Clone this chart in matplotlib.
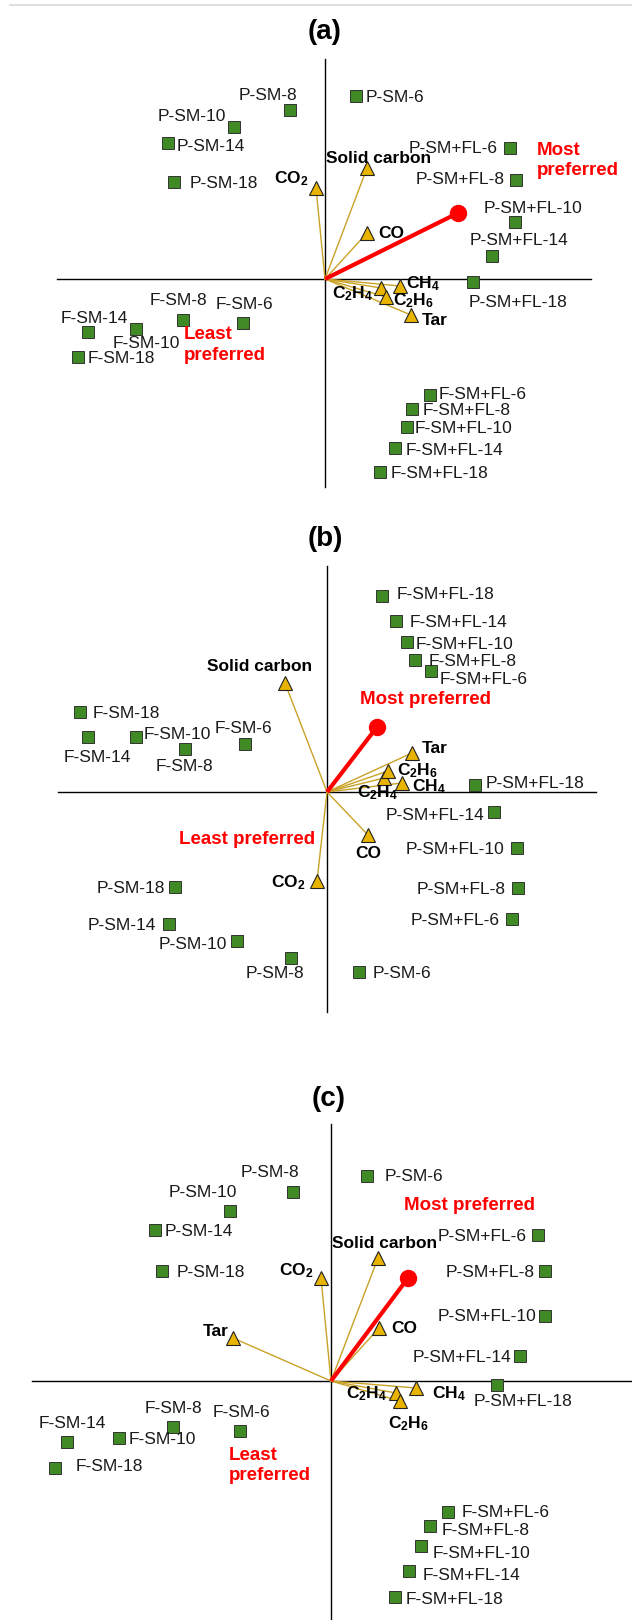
import matplotlib
matplotlib.use("Agg")
import matplotlib.pyplot as plt
from matplotlib.lines import Line2D

plt.rcParams['font.family'] = ['Liberation Sans', 'DejaVu Sans']
plt.rcParams['mathtext.fontset'] = 'custom'
plt.rcParams['mathtext.rm'] = 'Liberation Sans'
plt.rcParams['mathtext.it'] = 'Liberation Sans:italic'
plt.rcParams['mathtext.bf'] = 'Liberation Sans:bold'

# ---------------------------------------------------------------- data
samples = ['P-SM-6', 'P-SM-8', 'P-SM-10', 'P-SM-14', 'P-SM-18',
           'P-SM+FL-6', 'P-SM+FL-8', 'P-SM+FL-10', 'P-SM+FL-14', 'P-SM+FL-18',
           'F-SM-6', 'F-SM-8', 'F-SM-10', 'F-SM-14', 'F-SM-18',
           'F-SM+FL-6', 'F-SM+FL-8', 'F-SM+FL-10', 'F-SM+FL-14', 'F-SM+FL-18']

variables = [r'$\mathbf{CO_2}$', 'Solid carbon', 'CO', r'$\mathbf{CH_4}$',
             r'$\mathbf{C_2H_4}$', r'$\mathbf{C_2H_6}$', 'Tar']

# sample scores, panel (a)
scores_a_x = [0.31, -0.35, -0.91, -1.57, -1.51, 1.85, 1.91, 1.90, 1.67, 1.48,
              -0.82, -1.42, -1.89, -2.37, -2.47, 1.05, 0.87, 0.82, 0.70, 0.55]
scores_a_y = [1.83, 1.69, 1.52, 1.36, 0.97, 1.31, 0.99, 0.57, 0.23, -0.03,
              -0.44, -0.41, -0.50, -0.53, -0.78, -1.16, -1.30, -1.48, -1.69, -1.93]
# sample scores, panel (b)
scores_b_x = [0.32, -0.36, -0.90, -1.58, -1.52, 1.85, 1.91, 1.90, 1.67, 1.48,
              -0.82, -1.42, -1.91, -2.39, -2.47, 1.04, 0.88, 0.80, 0.69, 0.55]
scores_b_y = [-1.80, -1.66, -1.49, -1.32, -0.95, -1.27, -0.96, -0.56, -0.20, 0.07,
              0.48, 0.43, 0.55, 0.55, 0.80, 1.21, 1.32, 1.50, 1.71, 1.96]
# sample scores, panel (c)
scores_c_x = [0.36, -0.38, -1.01, -1.76, -1.69, 2.07, 2.14, 2.14, 1.89, 1.66,
              -0.91, -1.58, -2.12, -2.64, -2.76, 1.17, 0.99, 0.90, 0.78, 0.64]
scores_c_y = [2.05, 1.89, 1.70, 1.51, 1.10, 1.46, 1.10, 0.65, 0.25, -0.04,
              -0.50, -0.46, -0.57, -0.61, -0.87, -1.31, -1.45, -1.65, -1.90, -2.16]

# variable loadings
load_a_x = [-0.09, 0.42, 0.42, 0.75, 0.56, 0.61, 0.86]
load_a_y = [0.91, 1.11, 0.46, -0.07, -0.09, -0.18, -0.36]
load_b_x = [-0.10, -0.42, 0.41, 0.75, 0.57, 0.61, 0.85]
load_b_y = [-0.89, 1.09, -0.43, 0.09, 0.14, 0.21, 0.39]
load_c_x = [-0.10, 0.47, 0.48, 0.85, 0.65, 0.69, -0.98]
load_c_y = [1.03, 1.23, 0.53, -0.07, -0.12, -0.20, 0.43]

# preference direction
pref_a = (1.33, 0.66)
pref_b = (0.50, 0.65)
pref_c = (0.77, 1.03)

panel_titles = ['(a)', '(b)', '(c)']

# ---------------------------------------------------------------- layout
W, H, DPI = 632, 1620, 100
PX = 100.0  # pixels per score unit

# label offsets in pixels (dx, dy up, horizontal alignment)
sample_offsets_a = {
    'P-SM-6': (10, 0, 'left'), 'P-SM-8': (-22, 16, 'center'), 'P-SM-10': (-42, 12, 'center'),
    'P-SM-14': (9, -2, 'left'), 'P-SM-18': (16, 0, 'left'),
    'P-SM+FL-6': (-12, 1, 'right'), 'P-SM+FL-8': (-11, 2, 'right'),
    'P-SM+FL-10': (18, 15, 'center'), 'P-SM+FL-14': (27, 17, 'center'),
    'P-SM+FL-18': (45, -19, 'center'),
    'F-SM-6': (1, 20, 'center'), 'F-SM-8': (-5, 21, 'center'), 'F-SM-10': (10, -13, 'center'),
    'F-SM-14': (6, 15, 'center'), 'F-SM-18': (10, 0, 'left'),
    'F-SM+FL-6': (9, 2, 'left'), 'F-SM+FL-8': (11, 0, 'left'), 'F-SM+FL-10': (8, 0, 'left'),
    'F-SM+FL-14': (11, -1, 'left'), 'F-SM+FL-18': (11, 0, 'left')}
var_offsets_a = [(-25, 11, 'center'), (12, 11, 'center'), (11, 1, 'left'), (6, 4, 'left'),
                 (-8, -4, 'right'), (7, -2, 'left'), (11, -4, 'left')]

sample_offsets_b = {
    'F-SM+FL-18': (15, 3, 'left'), 'F-SM+FL-14': (14, 0, 'left'), 'F-SM+FL-10': (9, -1, 'left'),
    'F-SM+FL-8': (14, 0, 'left'), 'F-SM+FL-6': (9, -7, 'left'),
    'F-SM-18': (13, 0, 'left'), 'F-SM-14': (9, -19, 'center'), 'F-SM-10': (8, 4, 'left'),
    'F-SM-8': (-1, -16, 'center'), 'F-SM-6': (-2, 17, 'center'),
    'P-SM+FL-18': (11, 3, 'left'), 'P-SM+FL-14': (-10, -2, 'right'),
    'P-SM+FL-10': (-13, 0, 'right'), 'P-SM+FL-8': (-12, 0, 'right'), 'P-SM+FL-6': (-12, 0, 'right'),
    'P-SM-18': (-10, 0, 'right'), 'P-SM-14': (-13, 0, 'right'), 'P-SM-10': (-10, -2, 'right'),
    'P-SM-8': (-16, -14, 'center'), 'P-SM-6': (14, 0, 'left')}
var_offsets_b = [(-12, 0, 'right'), (-25, 18, 'center'), (0, -17, 'center'), (10, -2, 'left'),
                 (-6, -13, 'center'), (9, 2, 'left'), (10, 6, 'left')]

sample_offsets_c = {
    'P-SM-6': (18, 1, 'left'), 'P-SM-8': (-23, 21, 'center'), 'P-SM-10': (-27, 20, 'center'),
    'P-SM-14': (10, 0, 'left'), 'P-SM-18': (15, 0, 'left'),
    'P-SM+FL-6': (-11, 0, 'right'), 'P-SM+FL-8': (-10, 0, 'right'),
    'P-SM+FL-10': (-9, 1, 'right'), 'P-SM+FL-14': (-9, 0, 'right'),
    'P-SM+FL-18': (26, -15, 'center'),
    'F-SM-14': (5, 20, 'center'), 'F-SM-10': (10, 0, 'left'), 'F-SM-8': (0, 20, 'center'),
    'F-SM-6': (1, 20, 'center'), 'F-SM-18': (21, 3, 'left'),
    'F-SM+FL-6': (14, 1, 'left'), 'F-SM+FL-8': (12, -3, 'left'), 'F-SM+FL-10': (12, -6, 'left'),
    'F-SM+FL-14': (14, -3, 'left'), 'F-SM+FL-18': (11, -1, 'left')}
var_offsets_c = [(-25, 9, 'center'), (7, 16, 'center'), (12, 1, 'left'), (16, -4, 'left'),
                 (-9, 1, 'right'), (8, -21, 'center'), (-17, 8, 'center')]

panels = [
    dict(band=(0, 500), origin=(325, 279), sx=scores_a_x, sy=scores_a_y,
         lx=load_a_x, ly=load_a_y, pref=pref_a, soff=sample_offsets_a, voff=var_offsets_a,
         hline=(-2.68, 2.66), vline=(-2.08, 2.20), title_xy=(325, 32),
         most=((2.12, 1.185), 'Most\npreferred', 'left'),
         least=((-1.41, -0.66), 'Least\npreferred', 'left')),
    dict(band=(500, 1060), origin=(327, 792), sx=scores_b_x, sy=scores_b_y,
         lx=load_b_x, ly=load_b_y, pref=pref_b, soff=sample_offsets_b, voff=var_offsets_b,
         hline=(-2.69, 2.69), vline=(-2.20, 2.26), title_xy=(325, 539),
         most=((0.98, 0.93), 'Most preferred', 'center'),
         least=((-0.80, -0.48), 'Least preferred', 'center')),
    dict(band=(1060, 1620), origin=(331, 1381), sx=scores_c_x, sy=scores_c_y,
         lx=load_c_x, ly=load_c_y, pref=pref_c, soff=sample_offsets_c, voff=var_offsets_c,
         hline=(-2.99, 3.01), vline=(-2.40, 2.57), title_xy=(329, 1099),
         most=((1.39, 1.76), 'Most preferred', 'center'),
         least=((-1.02, -0.845), 'Least\npreferred', 'left')),
]

GREEN = '#3f8a24'
GOLD = '#e8b400'
GOLD_LINE = '#c9a227'
RED = '#ff0000'
CAP = -1.5  # nudge so capitals sit centred on the anchor

fig = plt.figure(figsize=(W / DPI, H / DPI), dpi=DPI)
fig.add_artist(Line2D([10 / W, 1.0], [1 - 5 / H, 1 - 5 / H], color='#d9d9d9', lw=1.2))

for title, p in zip(panel_titles, panels):
    top, bot = p['band']
    ox, oy = p['origin']
    ax = fig.add_axes([0, 1 - bot / H, 1, (bot - top) / H])
    ax.set_xlim(-ox / PX, (W - ox) / PX)
    ax.set_ylim(-(bot - oy) / PX, (oy - top) / PX)
    ax.axis('off')

    # axes through the origin
    ax.plot(p['hline'], [0, 0], color='black', lw=1.0, zorder=1)
    ax.plot([0, 0], p['vline'], color='black', lw=1.0, zorder=1)

    # variable vectors
    for vx, vy in zip(p['lx'], p['ly']):
        ax.plot([0, vx], [0, vy], color=GOLD_LINE, lw=1.0, zorder=2)
    ax.plot([0, p['pref'][0]], [0, p['pref'][1]], color=RED, lw=3.0,
            solid_capstyle='butt', zorder=3)
    ax.plot([p['pref'][0]], [p['pref'][1]], 'o', color=RED, ms=11.5, zorder=6)

    ax.plot(p['lx'], p['ly'], '^', ms=10, mfc=GOLD, mec='#222222', mew=0.8,
            ls='none', zorder=5)
    ax.plot(p['sx'], p['sy'], 's', ms=8.5, mfc=GREEN, mec='#333333', mew=0.7,
            ls='none', zorder=5)

    # sample labels
    for name, x, y in zip(samples, p['sx'], p['sy']):
        dx, dy, ha = p['soff'][name]
        ax.annotate(name, (x, y), xytext=(dx, dy + CAP), textcoords='offset pixels',
                    ha=ha, va='center', fontsize=12.5, color='#1a1a1a', zorder=7)

    # variable labels
    for name, x, y, (dx, dy, ha) in zip(variables, p['lx'], p['ly'], p['voff']):
        ax.annotate(name, (x, y), xytext=(dx, dy + CAP), textcoords='offset pixels',
                    ha=ha, va='center', fontsize=12.5, fontweight='bold',
                    color='black', zorder=7)

    for (xy, txt, ha) in (p['most'], p['least']):
        ax.text(xy[0], xy[1], txt, ha=ha, va='center', fontsize=13.5,
                fontweight='bold', color=RED, linespacing=1.25, zorder=7)

    tx, ty = p['title_xy']
    fig.text(tx / W, 1 - ty / H, title, ha='center', va='center',
             fontsize=20, fontweight='bold')

fig.savefig('out.png', dpi=DPI)
